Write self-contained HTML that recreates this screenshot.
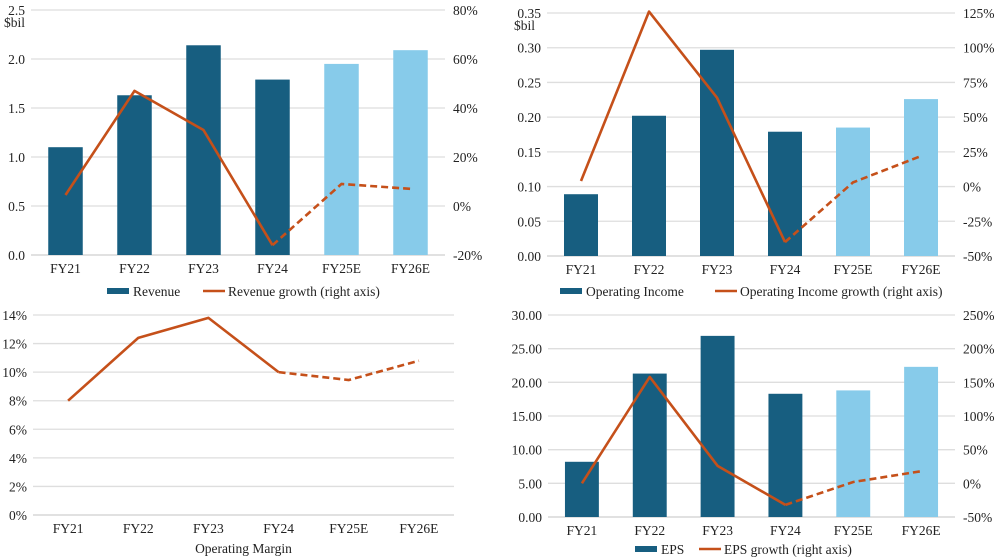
<!DOCTYPE html>
<html><head><meta charset="utf-8"><style>
body{margin:0;background:#fff;}
svg{display:block;font-family:"Liberation Serif",serif;}
text{fill:#222;font-size:13.5px;}
</style></head><body>
<svg id="root" width="1000" height="560"></svg>
<script>
const categories=["FY21","FY22","FY23","FY24","FY25E","FY26E"];
const estimateFlags=[false,false,false,false,true,true];
const revenue=[1.10,1.63,2.14,1.79,1.95,2.09];
const revenueGrowth=[4.5,47,31,-16,9,7];
const revTicks=["0.0","0.5","1.0","1.5","2.0","2.5"];
const revGrowthTicks=["-20%","0%","20%","40%","60%","80%"];
const opIncome=[0.089,0.202,0.297,0.179,0.185,0.226];
const opIncomeGrowth=[4,126,64,-40,3,22];
const opTicks=["0.00","0.05","0.10","0.15","0.20","0.25","0.30","0.35"];
const opGrowthTicks=["-50%","-25%","0%","25%","50%","75%","100%","125%"];
const opMargin=[8.0,12.4,13.8,10.0,9.45,10.8];
const marginTicks=["0%","2%","4%","6%","8%","10%","12%","14%"];
const eps=[8.2,21.3,26.9,18.3,18.8,22.3];
const epsGrowth=[0,158,26,-32,2,18];
const epsTicks=["0.00","5.00","10.00","15.00","20.00","25.00","30.00"];
const epsGrowthTicks=["-50%","0%","50%","100%","150%","200%","250%"];

const NS="http://www.w3.org/2000/svg";
const root=document.getElementById('root');
function mk(tag,attrs,parent,txt){const e=document.createElementNS(NS,tag);for(const k in attrs)e.setAttribute(k,attrs[k]);if(txt!==undefined)e.textContent=txt;parent.appendChild(e);return e;}
const DARK="#175E80",LIGHT="#87CBEA",ORANGE="#C5501A";

function chart(cfg){
  const g=mk('g',{},root);
  
  
  const L=cfg.left,R=cfg.right,T=cfg.top,B=cfg.bottom;
  const yL=v=>B-(v-cfg.lmin)/(cfg.lmax-cfg.lmin)*(B-T);
  const yR=v=>B-(v-cfg.rmin)/(cfg.rmax-cfg.rmin)*(B-T);
  const bw=(R-L)/categories.length;
  const xc=i=>L+bw*(i+0.5);
  const n=cfg.lticks.length;
  for(let i=0;i<n;i++){
    const v=cfg.lmin+(cfg.lmax-cfg.lmin)*i/(n-1);
    const y=yL(v);
    const gl=mk('line',{x1:L,x2:R,y1:y,y2:y,stroke:i==0?'#cfcfcf':'#dedede','stroke-width':1.3},g);
    
    const t=mk('text',{x:L-6,y:y+5,'text-anchor':'end'},g,cfg.lticks[i]);
    
  }
  if(cfg.unit){const u=mk('text',{x:cfg.unitX,y:T+17,'font-size':'11px'},g,cfg.unit);}
  if(cfg.rticks){
    const m=cfg.rticks.length;
    for(let i=0;i<m;i++){
      const v=cfg.rmin+(cfg.rmax-cfg.rmin)*i/(m-1);
      const t=mk('text',{x:R+8,y:yR(v)+5},g,cfg.rticks[i]);
      
    }
  }
  categories.forEach((c,i)=>{
    const t=mk('text',{x:xc(i),y:B+18,'text-anchor':'middle'},g,c);
    
  });
  if(cfg.bars){
    cfg.bars.forEach((v,i)=>{
      const w=bw*0.5;
      const r=mk('rect',{x:xc(i)-w/2,y:yL(v),width:w,height:B-yL(v),fill:estimateFlags[i]?LIGHT:DARK},g);
      
      
    });
  }
  const ys=cfg.line.map((v,i)=>cfg.lineLeft?yL(v):yR(v));
  const split=estimateFlags.indexOf(true)-1;
  let d1='',d2='';
  for(let i=0;i<=split;i++)d1+=(i?'L':'M')+xc(i)+','+ys[i];
  for(let i=split;i<ys.length;i++)d2+=(i==split?'M':'L')+xc(i)+','+ys[i];
  const p1=mk('path',{d:d1,fill:'none',stroke:ORANGE,'stroke-width':2.6,'stroke-linejoin':'round'},g);
  
  const p2=mk('path',{d:d2,fill:'none',stroke:ORANGE,'stroke-width':2.6,'stroke-dasharray':'7,4'},g);
  
  if(cfg.legend){
    const lg=mk('g',{},g);
    
    const ly=cfg.legend.y;
    const s=mk('rect',{x:cfg.legend.x1,y:ly-4,width:22,height:6,fill:DARK},lg);
    
    const t1=mk('text',{x:cfg.legend.x1+26,y:ly+4},lg,cfg.legend.t1);
    
    const l=mk('line',{x1:cfg.legend.x2,x2:cfg.legend.x2+22,y1:ly-1,y2:ly-1,stroke:ORANGE,'stroke-width':2.6},lg);
    
    const t2=mk('text',{x:cfg.legend.x2+25,y:ly+4},lg,cfg.legend.t2);
    
  }
  if(cfg.title){const t=mk('text',{x:(L+R)/2,y:cfg.title.y,'text-anchor':'middle'},g,cfg.title.t);}
}

chart({name:'revenue-chart',left:31,right:445,top:10,bottom:255,lmin:0,lmax:2.5,lticks:revTicks,rmin:-20,rmax:80,rticks:revGrowthTicks,
  bars:revenue,line:revenueGrowth,unit:'$bil',unitX:4,legend:{y:292,x1:107,t1:'Revenue',x2:203,t2:'Revenue growth (right axis)'}});
chart({name:'operating-income-chart',left:547,right:955,top:13,bottom:256,lmin:0,lmax:0.35,lticks:opTicks,rmin:-50,rmax:125,rticks:opGrowthTicks,
  bars:opIncome,line:opIncomeGrowth,unit:'$bil',unitX:514,legend:{y:292,x1:560,t1:'Operating Income',x2:715,t2:'Operating Income growth (right axis)'}});
chart({name:'operating-margin-chart',left:33,right:454,top:315,bottom:515,lmin:0,lmax:14,lticks:marginTicks,
  line:opMargin,lineLeft:true,title:{y:553,t:'Operating Margin'}});
chart({name:'eps-chart',left:548,right:955,top:315,bottom:517,lmin:0,lmax:30,lticks:epsTicks,rmin:-50,rmax:250,rticks:epsGrowthTicks,
  bars:eps,line:epsGrowth,legend:{y:550,x1:635,t1:'EPS',x2:699,t2:'EPS growth (right axis)'}});
</script>
</body></html>
